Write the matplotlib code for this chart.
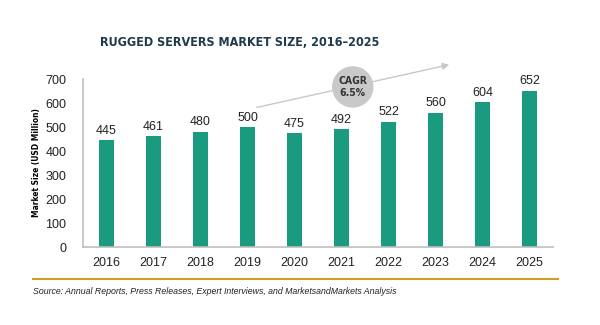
import matplotlib.pyplot as plt
from matplotlib.patches import Ellipse, FancyArrowPatch
from matplotlib.lines import Line2D

years = ["2016", "2017", "2018", "2019", "2020", "2021", "2022", "2023", "2024", "2025"]
market_size = [445, 461, 480, 500, 475, 492, 522, 560, 604, 652]
y_ticks = [0, 100, 200, 300, 400, 500, 600, 700]

bar_color = "#1A9A7F"
title_color = "#1F3A4D"
narrow = dict(family="DejaVu Sans", stretch="condensed")

fig = plt.figure(figsize=(6, 3.25), dpi=100)
W, H = 600, 325
ax = fig.add_axes([83 / W, 1 - 247 / H, 470 / W, 168 / H])

x = range(len(years))
ax.bar(x, market_size, width=0.32, color=bar_color, zorder=2)
for i, v in enumerate(market_size):
    ax.text(i, v + 14, str(v), ha="center", va="bottom", fontsize=9,
            family="Liberation Sans", color="#222222")

ax.set_xlim(-0.5, 9.5)
ax.set_ylim(0, 700)
ax.set_xticks(list(x))
ax.set_xticklabels(years, fontsize=9, family="Liberation Sans", color="#222222")
ax.set_yticks(y_ticks)
ax.set_yticklabels([str(t) for t in y_ticks], fontsize=9, family="Liberation Sans", color="#222222")
ax.tick_params(length=0, pad=7)
ax.tick_params(axis="y", pad=12)
for s in ["top", "right"]:
    ax.spines[s].set_visible(False)
for s in ["left", "bottom"]:
    ax.spines[s].set_color("#BFBFBF")
    ax.spines[s].set_linewidth(1.2)
ax.set_ylabel("Market Size (USD Million)", fontsize=6, fontweight="bold", labelpad=3, **narrow)

# CAGR arrow and bubble
arrow = FancyArrowPatch((3.14, 579), (7.35, 762), arrowstyle="-|>", mutation_scale=10,
                        color="#C8C8C8", lw=1, clip_on=False, zorder=3)
ax.add_patch(arrow)
bubble = Ellipse((5.24, 667), width=40 / 47, height=40 / 0.24, color="#C9C9C9",
                 clip_on=False, zorder=4)
ax.add_patch(bubble)
ax.text(5.24, 667, "CAGR\n6.5%", ha="center", va="center", fontsize=7.5, fontweight="bold",
        color="#333333", zorder=5, linespacing=1.3, **narrow)

fig.text(100 / W, 1 - 42 / H, "RUGGED SERVERS MARKET SIZE, 2016\u20132025", fontsize=9,
         fontweight="bold", color=title_color, va="center", ha="left", **narrow)

fig.add_artist(Line2D([33 / W, 558 / W], [1 - 279 / H, 1 - 279 / H], color="#C9A227", lw=1.5))
fig.text(33 / W, 1 - 292 / H,
         "Source: Annual Reports, Press Releases, Expert Interviews, and MarketsandMarkets Analysis",
         fontsize=6.3, style="italic", family="Liberation Sans", color="#222222", va="center")

fig.savefig("out.png", dpi=100)
